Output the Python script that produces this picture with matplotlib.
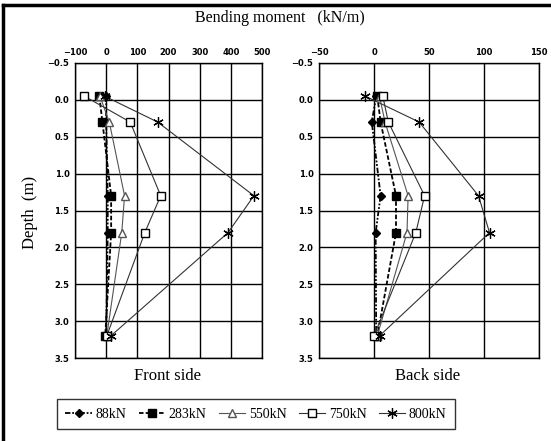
import matplotlib
matplotlib.use("Agg")
import matplotlib.pyplot as plt
from matplotlib.lines import Line2D

depth = [-0.05, 0.3, 1.3, 1.8, 3.2]
labels = ["88kN", "283kN", "550kN", "750kN", "800kN"]

front = {
    "88kN":  [0, 0, 5, 5, 0],
    "283kN": [-22, -12, 16, 16, -3],
    "550kN": [-20, 10, 59, 50, 2],
    "750kN": [-70, 77, 175, 124, 2],
    "800kN": [-5, 165, 474, 391, 15],
}
back = {
    "88kN":  [2, -2, 6, 1.5, 2],
    "283kN": [3, 6, 20, 20, 3],
    "550kN": [5, 10, 31, 30, 3],
    "750kN": [8, 13, 46, 38, 0],
    "800kN": [-8, 41, 95, 105, 5],
}

front_xticks = [-100, 0, 100, 200, 300, 400, 500]
back_xticks = [-50, 0, 50, 100, 150]
yticks = [-0.5, 0.0, 0.5, 1.0, 1.5, 2.0, 2.5, 3.0, 3.5]

styles = {
    "88kN":  dict(color="black", lw=1.3, ls=(0, (3, 1, 1, 1, 1, 1)), marker="D", ms=4,
                  mfc="black", mec="black"),
    "283kN": dict(color="black", lw=1.3, ls=(0, (2.5, 1.2)), marker="s", ms=6,
                  mfc="black", mec="black"),
    "550kN": dict(color="#555555", lw=0.8, ls="-", marker="^", ms=5.5,
                  mfc="white", mec="#555555"),
    "750kN": dict(color="#333333", lw=0.8, ls="-", marker="s", ms=5.5,
                  mfc="white", mec="black"),
    "800kN": dict(color="#333333", lw=0.8, ls="-", marker=(6, 2, 0), ms=7.5,
                  mfc="black", mec="black", mew=0.9),
}

fig = plt.figure(figsize=(5.51, 4.41), dpi=100)

axL = fig.add_axes([75 / 551, 83 / 441, 187 / 551, 295 / 441])
axR = fig.add_axes([319 / 551, 83 / 441, 220 / 551, 295 / 441])

serif = "Liberation Serif"

def setup(ax, data, xticks, xlim):
    for lab in labels:
        ax.plot(data[lab], depth, label=lab, **styles[lab], zorder=3)
    ax.set_xlim(*xlim)
    ax.set_ylim(3.5, -0.5)
    ax.set_xticks(xticks)
    ax.set_yticks(yticks)
    ax.set_yticklabels([f"{v:.1f}".replace("-", "\u2212") for v in yticks])
    ax.xaxis.tick_top()
    ax.tick_params(length=0, labelsize=6, pad=4)
    for t in ax.get_xticklabels() + ax.get_yticklabels():
        t.set_fontweight("bold")
    ax.grid(True, color="black", lw=1.0)
    ax.set_axisbelow(True)
    for s in ax.spines.values():
        s.set_linewidth(1.0)
        s.set_color("black")

setup(axL, front, front_xticks, (-100, 500))
setup(axR, back, back_xticks, (-50, 150))

fig.text(280 / 551, 1 - 18 / 441, "Bending moment   (kN/m)", ha="center", va="center",
         family=serif, fontsize=11.5)
fig.text(30 / 551, 1 - 212 / 441, "Depth  (m)", ha="center", va="center",
         rotation=90, family=serif, fontsize=12)
fig.text(168 / 551, 1 - 376 / 441, "Front side", ha="center", va="center",
         family=serif, fontsize=12)
fig.text(428 / 551, 1 - 376 / 441, "Back side", ha="center", va="center",
         family=serif, fontsize=12)

# outer frame (top and left edges)
fig.add_artist(Line2D([3 / 551, 1], [1 - 5 / 441, 1 - 5 / 441], color="black", lw=2.5,
                      transform=fig.transFigure))
fig.add_artist(Line2D([3 / 551, 3 / 551], [0, 1 - 5 / 441], color="black", lw=2.5,
                      transform=fig.transFigure))

handles, labs = axL.get_legend_handles_labels()
leg = fig.legend(handles, labs, loc="center", bbox_to_anchor=(256 / 551, 1 - 414 / 441),
                 ncol=5, frameon=True, fancybox=False, edgecolor="black",
                 prop={"family": serif, "size": 10}, handlelength=1.9,
                 handletextpad=0.25, columnspacing=0.9, borderpad=0.6)
leg.get_frame().set_linewidth(1.0)

fig.savefig("out.png", dpi=100)
